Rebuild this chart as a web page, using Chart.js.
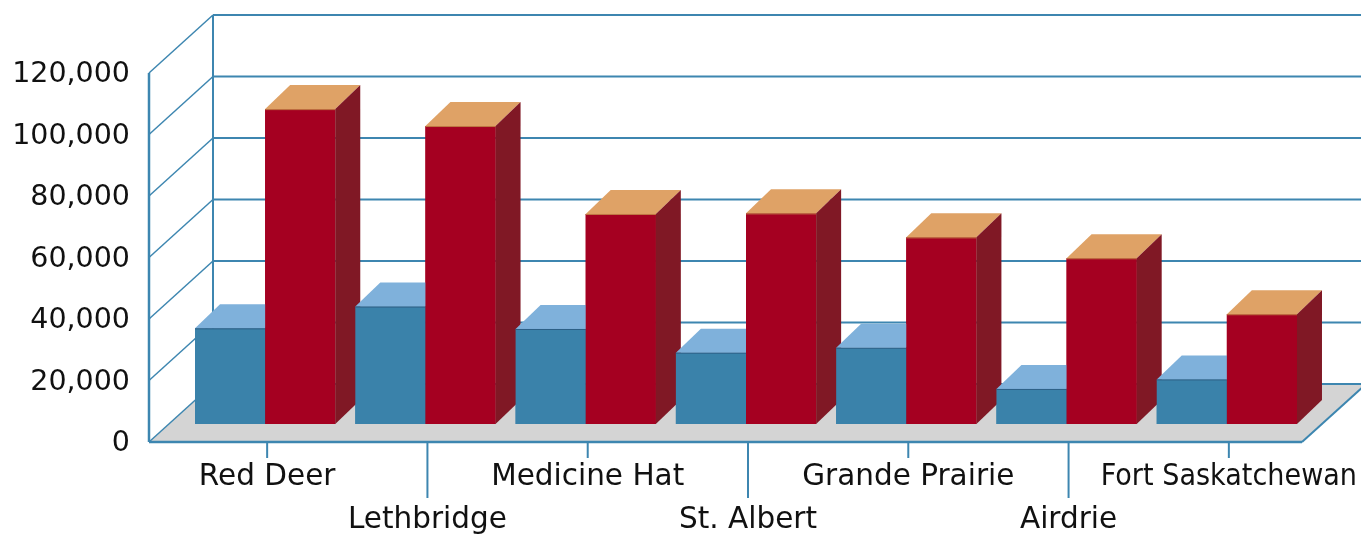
<!DOCTYPE html>
<html>
<head>
<meta charset="utf-8">
<title>Alberta cities</title>
<script src="https://cdn.jsdelivr.net/npm/chart.js@4.4.1/dist/chart.umd.min.js"></script>
<style>
  html, body { margin: 0; padding: 0; background: #fff; }
  #wrap { width: 1361px; height: 535px; }
</style>
</head>
<body>
<div id="wrap"><canvas id="chart"></canvas></div>
<script>
// data
const cities = ['Red Deer', 'Lethbridge', 'Medicine Hat', 'St. Albert', 'Grande Prairie', 'Airdrie', 'Fort Saskatchewan'];
const blueValues = [31100, 38200, 30900, 23200, 24800, 11400, 14500];
const redValues = [102400, 96900, 68300, 68500, 60700, 53900, 35700];
const yMin = 0;
const yMax = 120000;
const yStep = 20000;

// colours
const lineColor = '#3d86b0';
const floorColor = '#d4d4d4';
const blueFaces = { front: '#3a82aa', top: '#7fb1db', side: '#2b6388', edge: '#2e5f86' };
const redFaces = { front: '#a50021', top: '#dfa266', side: '#801825', edge: '#c07a45' };

// 3d geometry (pixels)
const BAR_DX = 25, BAR_DY = 24;        // depth of a bar
const FRONT_DY = 18;                   // front edge of the floor below bar plane
const FRONT_LEFT = -36, FRONT_RIGHT = -5;
const WALL_DX = 64, WALL_DY = 58;      // front axis -> back wall

function poly(ctx, pts, fill) {
    ctx.beginPath();
    ctx.moveTo(pts[0][0], pts[0][1]);
    for (let k = 1; k < pts.length; k++) ctx.lineTo(pts[k][0], pts[k][1]);
    ctx.closePath();
    ctx.fillStyle = fill;
    ctx.fill();
}

function line(ctx, x1, y1, x2, y2, w) {
    ctx.beginPath();
    ctx.moveTo(x1, y1);
    ctx.lineTo(x2, y2);
    ctx.lineWidth = w;
    ctx.strokeStyle = lineColor;
    ctx.stroke();
}

const frame3d = {
    id: 'frame3d',
    beforeDatasetsDraw(chart) {
        const { ctx, scales: { x, y } } = chart;
        const fl = x.left + FRONT_LEFT;
        const fr = x.right + FRONT_RIGHT;
        const bl = fl + WALL_DX;
        const zf = y.getPixelForValue(0) + FRONT_DY;

        ctx.save();
        // floor
        poly(ctx, [[fl, zf], [fr, zf], [fr + WALL_DX, zf - WALL_DY], [bl, zf - WALL_DY]], floorColor);

        // back wall grid + side diagonals
        for (let v = yMin; v <= yMax; v += yStep) {
            const yf = y.getPixelForValue(v) + FRONT_DY;
            const yb = yf - WALL_DY;
            line(ctx, bl, yb, chart.width, yb, 2);
            line(ctx, fl, yf, bl, yb, 1.5);
        }
        const top = y.getPixelForValue(yMax) + FRONT_DY;
        line(ctx, bl, zf - WALL_DY, bl, top - WALL_DY, 2);
        line(ctx, fl, zf, fl, top, 2.5);

        // floor front and right edges
        line(ctx, fl, zf, fr, zf, 2.5);
        line(ctx, fr, zf, fr + WALL_DX, zf - WALL_DY, 2);

        // category ticks and labels, staggered on two rows
        ctx.font = '29.5px "DejaVu Sans"';
        ctx.fillStyle = '#111';
        ctx.textAlign = 'center';
        ctx.textBaseline = 'middle';
        cities.forEach((c, i) => {
            const px = x.getPixelForValue(i) + 2;
            const low = i % 2 === 1;
            line(ctx, px, zf, px, zf + (low ? 56 : 16), 2);
            ctx.fillText(c, px, zf + (low ? 78 : 35), 2 * (chart.width - 4 - px));
        });
        ctx.restore();
    },
    afterDatasetsDraw(chart) {
        const ctx = chart.ctx;
        const faces = [blueFaces, redFaces];
        ctx.save();
        cities.forEach((c, i) => {
            [0, 1].forEach(d => {
                const el = chart.getDatasetMeta(d).data[i];
                const { x, y, base, width } = el.getProps(['x', 'y', 'base', 'width'], true);
                const l = x - width / 2, r = x + width / 2;
                const f = faces[d];
                ctx.fillStyle = f.front;
                ctx.fillRect(l, y, width, base - y);
                poly(ctx, [[l, y], [r, y], [r + BAR_DX, y - BAR_DY], [l + BAR_DX, y - BAR_DY]], f.top);
                poly(ctx, [[r, y], [r + BAR_DX, y - BAR_DY], [r + BAR_DX, base - BAR_DY], [r, base]], f.side);
                ctx.beginPath();
                ctx.moveTo(l, y + 0.5);
                ctx.lineTo(r, y + 0.5);
                ctx.lineWidth = 1;
                ctx.strokeStyle = f.edge;
                ctx.stroke();
            });
        });
        ctx.restore();
    }
};

new Chart(document.getElementById('chart'), {
    type: 'bar',
    data: {
        labels: cities,
        datasets: [
            { label: 'Blue', data: blueValues, backgroundColor: blueFaces.front },
            { label: 'Red', data: redValues, backgroundColor: redFaces.front }
        ]
    },
    options: {
        responsive: true,
        maintainAspectRatio: false,
        animation: false,
        layout: { padding: { left: 0, right: 54, top: 55, bottom: 111 } },
        datasets: { bar: { categoryPercentage: 0.875, barPercentage: 1 } },
        plugins: { legend: { display: false }, tooltip: { enabled: false } },
        scales: {
            x: { display: false },
            y: {
                min: yMin,
                max: yMax,
                grid: { display: false, drawTicks: false },
                border: { display: false },
                afterFit(scale) {
                    scale.width = 185;
                    // tick padding would otherwise push the plot down
                    scale.paddingTop = 0;
                    scale.paddingBottom = 0;
                },
                ticks: {
                    stepSize: yStep,
                    padding: 55,
                    labelOffset: 20,
                    color: '#111',
                    font: { family: 'DejaVu Sans', size: 28.5 },
                    callback: v => v.toLocaleString('en-US')
                }
            }
        }
    },
    plugins: [frame3d]
});
</script>
</body>
</html>
